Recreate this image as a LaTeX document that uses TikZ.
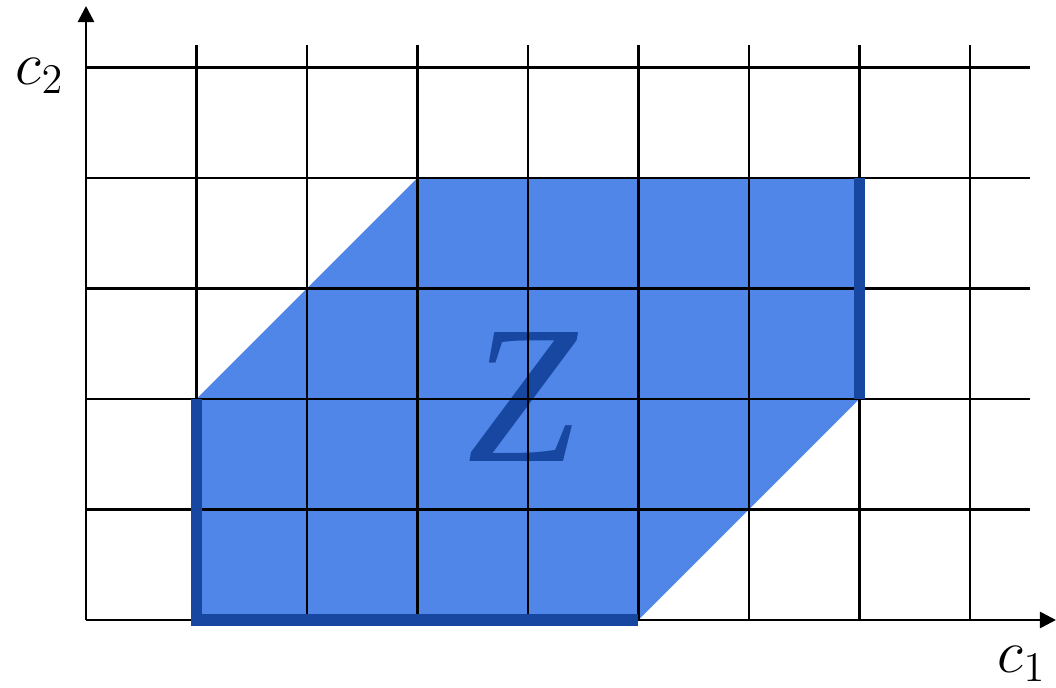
\documentclass[tikz,border=0pt]{standalone}
\usepackage{fontspec}
\newfontfamily\zfont{Liberation Serif}
\usetikzlibrary{arrows.meta}
\definecolor{zfill}{HTML}{4F86E8}
\definecolor{zdark}{HTML}{1747A0}
\tikzset{
  gridline/.style={black, line width=0.6pt},
  axisline/.style={black, line width=0.75pt, -{Triangle[width=0.16cm,length=0.16cm]}},
  edge/.style={zdark, line width=3.4pt},
  lbl/.style={inner sep=0pt, font=\fontsize{17.28}{20}\selectfont}
}
\begin{document}
\begin{tikzpicture}[x=0.01cm,y=-0.01cm]
\useasboundingbox (0,0) rectangle (1056,688);
% polygon corners
\coordinate (p1) at (196.5,620);
\coordinate (p2) at (638.5,620);
\coordinate (p3) at (859.5,399);
\coordinate (p4) at (859.5,178);
\coordinate (p5) at (417.5,178);
\coordinate (p6) at (196.5,399);
\fill[zfill] (p1) -- (p2) -- (p3) -- (p4) -- (p5) -- (p6) -- cycle;
\node[text=zdark, inner sep=0pt, font=\zfont\itshape\fontsize{56}{60}\selectfont, anchor=base] (zlab) at (522,462) {Z};
% grid
\foreach \k in {1,...,8} {
  \draw[gridline] ({86+110.5*\k},45) -- ({86+110.5*\k},620);
}
\foreach \k in {1,...,5} {
  \draw[gridline] (86,{620-110.5*\k}) -- (1030,{620-110.5*\k});
}
% axes
\coordinate (o) at (86,620);
\coordinate (xend) at (1056,620);
\coordinate (yend) at (86,6);
\draw[axisline] (o) -- (xend);
\draw[axisline] (o) -- (yend);
% thick edges
\draw[edge] (p6) -- (p1) -- (p2);
\draw[edge] (p4) -- (p3);
% labels
\node[lbl] (c2) at (40,76) {$c_2$};
\node[lbl] (c1) at (1022,664) {$c_1$};
\end{tikzpicture}
\end{document}
